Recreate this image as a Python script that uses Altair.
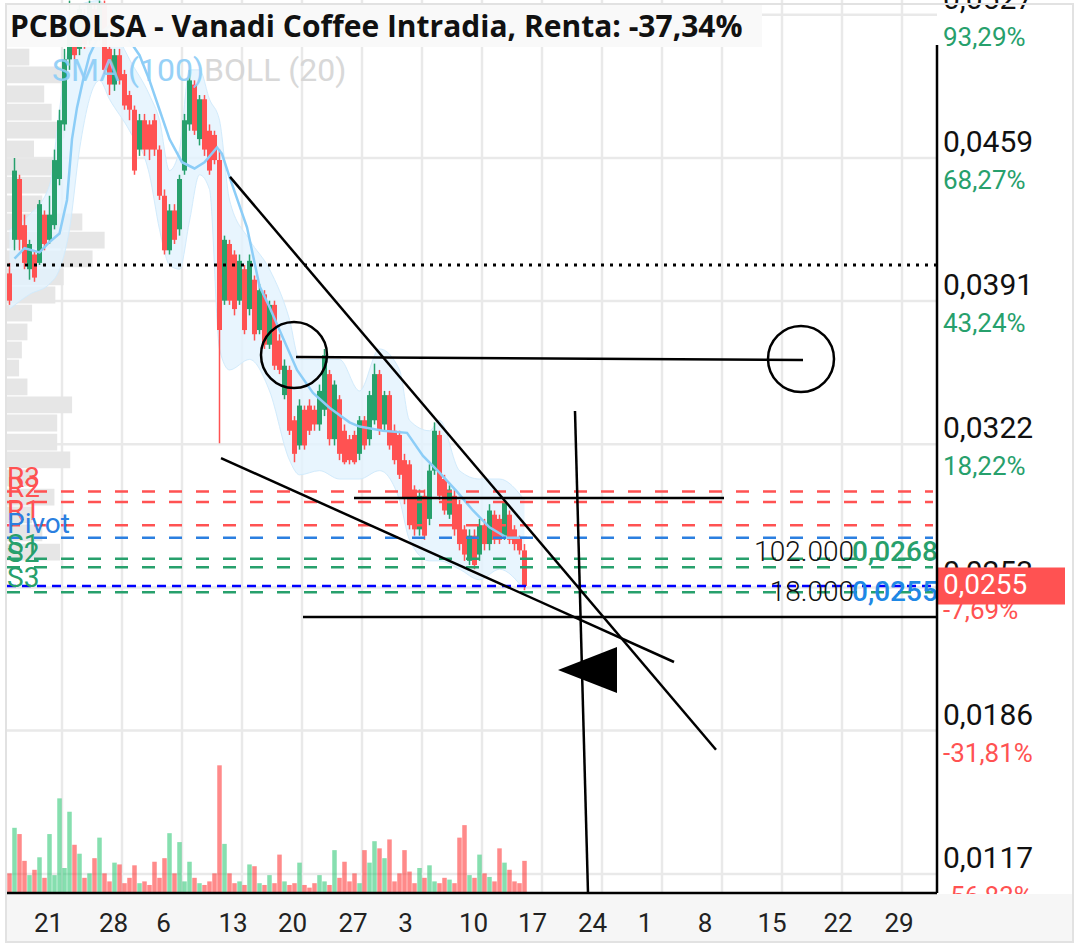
import altair as alt
import pandas as pd

# ---------------- data ----------------
opens = [0.0404, 0.0420, 0.0449, 0.0427, 0.0406, 0.0413, 0.0409, 0.0432, 0.0420, 0.0427,
         0.0449, 0.0475, 0.0506, 0.0520, 0.0511, 0.0527, 0.0515, 0.0530, 0.0518, 0.0532,
         0.0511, 0.0494, 0.0508, 0.0499, 0.0489, 0.0482, 0.0463, 0.0477, 0.0475, 0.0477,
         0.0463, 0.0441, 0.0415, 0.0434, 0.0425, 0.0453, 0.0475, 0.0494, 0.0468, 0.0487,
         0.0472, 0.0470, 0.0458, 0.0391, 0.0418, 0.0413, 0.0391, 0.0406, 0.0387, 0.0401,
         0.0377, 0.0394, 0.0370, 0.0389, 0.0372, 0.0346, 0.0358, 0.0334, 0.0322, 0.0339,
         0.0341, 0.0339, 0.0332, 0.0339, 0.0356, 0.0325, 0.0344, 0.0329, 0.0325, 0.0327,
         0.0318, 0.0334, 0.0325, 0.0334, 0.0356, 0.0332, 0.0346, 0.0329, 0.0327, 0.0315,
         0.0313, 0.0301, 0.0282, 0.0298, 0.0287, 0.0310, 0.0327, 0.0306, 0.0289, 0.0298,
         0.0294, 0.0282, 0.0267, 0.0279, 0.0270, 0.0284, 0.0275, 0.0289, 0.0287, 0.0279,
         0.0289, 0.0282, 0.0278, 0.0272]
closes = [0.0391, 0.0453, 0.0420, 0.0409, 0.0418, 0.0402, 0.0437, 0.0418, 0.0432, 0.0458,
          0.0477, 0.0506, 0.0525, 0.0508, 0.0530, 0.0513, 0.0532, 0.0518, 0.0532, 0.0501,
          0.0494, 0.0508, 0.0496, 0.0484, 0.0482, 0.0453, 0.0477, 0.0463, 0.0463, 0.0463,
          0.0441, 0.0415, 0.0434, 0.0420, 0.0449, 0.0477, 0.0496, 0.0472, 0.0487, 0.0463,
          0.0453, 0.0458, 0.0377, 0.0420, 0.0391, 0.0387, 0.0410, 0.0377, 0.0410, 0.0375,
          0.0396, 0.0370, 0.0389, 0.0360, 0.0358, 0.0360, 0.0329, 0.0318, 0.0341, 0.0322,
          0.0329, 0.0332, 0.0348, 0.0365, 0.0325, 0.0351, 0.0318, 0.0314, 0.0315, 0.0314,
          0.0334, 0.0322, 0.0346, 0.0356, 0.0329, 0.0346, 0.0322, 0.0315, 0.0308, 0.0297,
          0.0284, 0.0282, 0.0298, 0.0279, 0.0310, 0.0329, 0.0298, 0.0291, 0.0301, 0.0282,
          0.0275, 0.0270, 0.0279, 0.0265, 0.0284, 0.0275, 0.0291, 0.0277, 0.0277, 0.0295,
          0.0277, 0.0275, 0.0272, 0.0255]
highs = [0.0409, 0.0459, 0.0451, 0.0432, 0.0420, 0.0415, 0.0439, 0.0434, 0.0441, 0.0463,
         0.0482, 0.0511, 0.0534, 0.0525, 0.0532, 0.0530, 0.0534, 0.0532, 0.0534, 0.0534,
         0.0513, 0.0511, 0.0511, 0.0501, 0.0491, 0.0484, 0.0480, 0.0480, 0.0477, 0.0480,
         0.0465, 0.0444, 0.0437, 0.0437, 0.0451, 0.0480, 0.0501, 0.0496, 0.0489, 0.0489,
         0.0475, 0.0472, 0.0463, 0.0422, 0.0420, 0.0415, 0.0413, 0.0408, 0.0413, 0.0403,
         0.0399, 0.0396, 0.0391, 0.0391, 0.0375, 0.0363, 0.0360, 0.0336, 0.0344, 0.0341,
         0.0344, 0.0341, 0.0351, 0.0368, 0.0358, 0.0353, 0.0346, 0.0332, 0.0327, 0.0329,
         0.0336, 0.0336, 0.0348, 0.0361, 0.0358, 0.0348, 0.0348, 0.0332, 0.0329, 0.0318,
         0.0315, 0.0303, 0.0301, 0.0301, 0.0313, 0.0333, 0.0329, 0.0308, 0.0303, 0.0301,
         0.0296, 0.0284, 0.0282, 0.0282, 0.0287, 0.0287, 0.0294, 0.0291, 0.0289, 0.0296,
         0.0291, 0.0284, 0.0279, 0.0275]
lows = [0.0389, 0.0415, 0.0415, 0.0406, 0.0401, 0.0400, 0.0408, 0.0415, 0.0418, 0.0425,
        0.0446, 0.0472, 0.0501, 0.0506, 0.0508, 0.0511, 0.0513, 0.0515, 0.0515, 0.0499,
        0.0489, 0.0491, 0.0494, 0.0482, 0.0477, 0.0451, 0.0460, 0.0460, 0.0458, 0.0460,
        0.0439, 0.0413, 0.0413, 0.0418, 0.0422, 0.0451, 0.0472, 0.0470, 0.0465, 0.0460,
        0.0451, 0.0456, 0.0323, 0.0389, 0.0389, 0.0384, 0.0389, 0.0375, 0.0384, 0.0372,
        0.0375, 0.0368, 0.0368, 0.0358, 0.0356, 0.0344, 0.0327, 0.0314, 0.0320, 0.0320,
        0.0327, 0.0329, 0.0329, 0.0336, 0.0322, 0.0322, 0.0315, 0.0313, 0.0313, 0.0313,
        0.0315, 0.0320, 0.0322, 0.0332, 0.0327, 0.0329, 0.0320, 0.0313, 0.0306, 0.0294,
        0.0282, 0.0279, 0.0279, 0.0277, 0.0284, 0.0308, 0.0296, 0.0289, 0.0287, 0.0279,
        0.0272, 0.0267, 0.0265, 0.0263, 0.0267, 0.0272, 0.0272, 0.0275, 0.0275, 0.0277,
        0.0275, 0.0272, 0.0270, 0.0253]
volumes = [22, 73, 66, 36, 20, 26, 40, 17, 66, 20,
           106, 28, 91, 54, 44, 17, 22, 39, 62, 22,
           13, 34, 32, 11, 17, 31, 11, 13, 9, 35,
           17, 39, 67, 22, 57, 13, 35, 17, 11, 9,
           13, 22, 143, 55, 22, 11, 13, 9, 32, 30,
           11, 9, 20, 11, 43, 13, 9, 11, 34, 9,
           6, 11, 20, 13, 9, 48, 17, 35, 13, 22,
           11, 48, 34, 58, 50, 39, 60, 13, 22, 48,
           24, 11, 28, 17, 31, 13, 11, 17, 15, 11,
           62, 76, 20, 17, 43, 22, 18, 13, 50, 34,
           26, 13, 11, 36]

sma_idx = [1, 3, 6, 8, 10, 11.5, 12.5, 13.5, 14.7, 16, 18, 20, 22, 24, 26, 28, 30, 32, 34.5, 37,
           39, 41.5, 42.5, 44, 47.5, 50, 52, 54, 57.5, 60.7, 64, 68, 70, 74.7, 79.5, 82.7, 86,
           89.5, 92.7, 96, 99.5, 103.5]
sma_val = [0.0411, 0.0416, 0.0414, 0.0419, 0.0423, 0.0439, 0.0468, 0.0483, 0.0496, 0.0508,
           0.0518, 0.0522, 0.0520, 0.0515, 0.0508, 0.0496, 0.0482, 0.0468, 0.0457, 0.0454,
           0.0457, 0.0464, 0.0461, 0.0450, 0.0426, 0.0398, 0.0388, 0.0377, 0.0358, 0.0347,
           0.0340, 0.0333, 0.0331, 0.0329, 0.0328, 0.0317, 0.0309, 0.0300, 0.0291, 0.0283,
           0.0278, 0.0278]

boll_idx = [0, 4, 8, 10, 12, 14, 18, 20, 24, 28, 30, 32, 34, 36, 38, 40, 42, 44, 48, 52,
            56, 58, 62, 66, 70, 74, 78, 80, 84, 86, 90, 94, 98, 103]
boll_up = [0.0425, 0.0432, 0.0446, 0.0482, 0.0515, 0.0532, 0.0534, 0.0525, 0.0506, 0.0489,
           0.0477, 0.0453, 0.0463, 0.0501, 0.0501, 0.0487, 0.0477, 0.0439, 0.0420, 0.0406,
           0.0382, 0.0363, 0.0363, 0.0363, 0.0348, 0.0368, 0.0358, 0.0334, 0.0329, 0.0334,
           0.0310, 0.0306, 0.0306, 0.0296]
boll_lo = [0.0387, 0.0394, 0.0399, 0.0406, 0.0425, 0.0463, 0.0496, 0.0487, 0.0472, 0.0451,
           0.0425, 0.0408, 0.0406, 0.0429, 0.0451, 0.0444, 0.0368, 0.0358, 0.0363, 0.0348,
           0.0315, 0.0308, 0.0310, 0.0306, 0.0306, 0.0310, 0.0296, 0.0277, 0.0267, 0.0267,
           0.0263, 0.0258, 0.0263, 0.0253]

profile_price = [0.05071, 0.04986, 0.04895, 0.04809, 0.04723, 0.04633, 0.04547, 0.04461,
                 0.04371, 0.04285, 0.04199, 0.04109, 0.04023, 0.03937, 0.03851, 0.03761,
                 0.03675, 0.03589, 0.03499, 0.03413, 0.03327, 0.03236, 0.03151, 0.03065,
                 0.02974, 0.02889, 0.02803, 0.02712]
profile_vol = [24, 59, 40, 48, 62, 29, 54, 54, 38, 81, 105, 92, 61, 52, 27, 22, 16, 13, 22,
               70, 54, 54, 68, 32, 51, 27, 38, 57]

tick_prices = [0.05273, 0.04590, 0.03908, 0.03226, 0.02543, 0.01861, 0.01178]
tick_labels = ["0,0527", "0,0459", "0,0391", "0,0322", "0,0253", "0,0186", "0,0117"]
tick_pcts = ["93,29%", "68,27%", "43,24%", "18,22%", "-7,69%", "-31,81%", "-56,83%"]

date_pos = [7.8, 20.8, 30.8, 44.7, 56.6, 68.7, 79.2, 92.8, 104.6, 116.6, 127.1, 139.1,
            152.5, 165.7, 177.9]
date_labels = ["21", "28", "6", "13", "20", "27", "3", "10", "17", "24", "1", "8", "15",
               "22", "29"]
grid_x = [10.5, 22.5, 34.5, 46.5, 58.5, 70.5, 82.5, 94.5, 106.5, 118.5, 130.5, 142.5,
          154.5, 166.5, 178.5]

pivot_names = ["R3", "R2", "R1", "Pivot", "S1", "S2", "S3"]
pivot_prices = [0.0300, 0.0295, 0.0284, 0.0278, 0.0268, 0.0264, 0.0252]
last_price = 0.0255
last_label = "0,0255"
ref_level = 0.0408

# user drawings (bar index, price)
seg_x1 = [44.1, 42.3, 57.3, 68.9, 58.7, 113.1]
seg_y1 = [0.0450, 0.0316, 0.03642, 0.0297, 0.02402, 0.03384]
seg_x2 = [141.3, 132.9, 158.7, 142.9, 185.5, 115.7]
seg_y2 = [0.0177, 0.02188, 0.03627, 0.0297, 0.02402, 0.01087]
circle_x = [56.9, 158.3]
circle_y = [0.03651, 0.03632]
tri_x = [109.7, 121.5]
tri_top = [0.0215, 0.02259]
tri_bot = [0.0215, 0.02040]

order_prices = [0.0268, 0.0255]
order_qty = ["102.000", "18.000"]
order_lbl = ["0,0268", "0,0255"]

TITLE = "PCBOLSA - Vanadi Coffee Intradia, Renta: -37,34%"

# ---------------- styles ----------------
GREEN = "#27a06c"
RED = "#ff5252"
BLUE = "#2b7fe0"
W, H = 930, 893
XS = alt.Scale(domain=[-0.5, 185.5], nice=False, zero=False)
YS = alt.Scale(domain=[0.01087, 0.05343], nice=False, zero=False)


def X(f):
    return alt.X(f, scale=XS, axis=None)


def Y(f):
    return alt.Y(f, scale=YS, axis=None)


one = pd.DataFrame({"a": [0]})
cdf = pd.DataFrame({"i": list(range(len(opens))), "o": opens, "c": closes,
                    "h": highs, "l": lows, "v": volumes})
up = alt.condition("datum.c >= datum.o", alt.value(GREEN), alt.value(RED))
vol_up = alt.condition("datum.c >= datum.o", alt.value("#22c46e"), alt.value("#ff2a2a"))

grid_v = alt.Chart(pd.DataFrame({"g": grid_x})).mark_rule(color="#e9e9e9", strokeWidth=2.5).encode(
    x=X("g:Q"), y=alt.value(0), y2=alt.value(H))
grid_h = alt.Chart(pd.DataFrame({"p": tick_prices})).mark_rule(color="#e9e9e9", strokeWidth=2.5).encode(
    y=Y("p:Q"), x=alt.value(0), x2=alt.value(W))

pdf = pd.DataFrame({"p": profile_price, "pv": profile_vol})
profile = alt.Chart(pdf).transform_calculate(
    lo="datum.p - 0.0004", hi="datum.p + 0.0004").mark_rect(color="#e6e6e6").encode(
    x=alt.X("pv:Q", scale=alt.Scale(domain=[0, 1000], nice=False, zero=False), axis=None),
    x2=alt.value(0), y=Y("lo:Q"), y2="hi:Q")

bdf = pd.DataFrame({"i": boll_idx, "u": boll_up, "l": boll_lo})
boll_area = alt.Chart(bdf).mark_area(color="#e2f2fe", opacity=0.8, interpolate="monotone").encode(
    x=X("i:Q"), y=Y("u:Q"), y2="l:Q")
boll_u = alt.Chart(bdf).mark_line(color="#d2ebfc", strokeWidth=1, interpolate="monotone").encode(
    x=X("i:Q"), y=Y("u:Q"))
boll_l = alt.Chart(bdf).mark_line(color="#d2ebfc", strokeWidth=1, interpolate="monotone").encode(
    x=X("i:Q"), y=Y("l:Q"))

vol = alt.Chart(cdf).transform_calculate(x0="datum.i - 0.45", x1="datum.i + 0.45").mark_rect(
    opacity=0.55).encode(
    x=X("x0:Q"), x2="x1:Q",
    y=alt.Y("v:Q", scale=alt.Scale(domain=[0, 1000], nice=False, zero=True), axis=None),
    y2=alt.value(H), color=vol_up)

wicks = alt.Chart(cdf).mark_rule(strokeWidth=1.5).encode(
    x=X("i:Q"), y=Y("l:Q"), y2="h:Q", color=up)
bodies = alt.Chart(cdf).transform_calculate(x0="datum.i - 0.5", x1="datum.i + 0.5").mark_rect().encode(
    x=X("x0:Q"), x2="x1:Q", y=Y("o:Q"), y2="c:Q", color=up)

sma = alt.Chart(pd.DataFrame({"i": sma_idx, "s": sma_val})).mark_line(
    color="#8ccdf7", strokeWidth=2.5).encode(x=X("i:Q"), y=Y("s:Q"))

dotted = alt.Chart(pd.DataFrame({"p": [ref_level]})).mark_rule(
    color="black", strokeWidth=3, strokeDash=[3, 6]).encode(
    y=Y("p:Q"), x=alt.value(0), x2=alt.value(W))

pvdf = pd.DataFrame({"name": pivot_names, "p": pivot_prices})
pcol = alt.Color("name:N", scale=alt.Scale(domain=pivot_names,
                 range=[RED, RED, RED, BLUE, GREEN, GREEN, GREEN]), legend=None)
pivots = alt.Chart(pvdf).mark_rule(strokeWidth=2.5, strokeDash=[13, 14]).encode(
    y=Y("p:Q"), x=alt.value(0), x2=alt.value(926), color=pcol)
pivot_txt = alt.Chart(pvdf).mark_text(align="left", baseline="alphabetic", dy=-5,
                                      fontSize=28, font="Roboto").encode(
    y=Y("p:Q"), x=alt.value(0), text="name:N", color=pcol)

last_line = alt.Chart(pd.DataFrame({"p": [last_price]})).mark_rule(
    color="#0000ff", strokeWidth=2.5, strokeDash=[9, 6]).encode(
    y=Y("p:Q"), x=alt.value(0), x2=alt.value(W))

segs = alt.Chart(pd.DataFrame({"x1": seg_x1, "y1": seg_y1, "x2": seg_x2, "y2": seg_y2})).mark_rule(
    color="black", strokeWidth=2.5).encode(x=X("x1:Q"), x2="x2:Q", y=Y("y1:Q"), y2="y2:Q")
circles = alt.Chart(pd.DataFrame({"x": circle_x, "y": circle_y})).mark_point(
    shape="circle", size=4356, filled=False, color="black", strokeWidth=2.5, opacity=1).encode(
    x=X("x:Q"), y=Y("y:Q"))
tri = alt.Chart(pd.DataFrame({"x": tri_x, "t": tri_top, "b": tri_bot})).mark_area(
    color="black", orient="vertical").encode(x=X("x:Q"), y=Y("t:Q"), y2="b:Q")

odf = pd.DataFrame({"p": order_prices, "q": order_qty, "lbl": order_lbl,
                    "k": ["buy", "last"]})
order_q = alt.Chart(odf).transform_calculate(
    yy="datum.k == 'buy' ? datum.p + 0.00029 : datum.p - 0.00031").mark_text(
    align="right", baseline="middle", fontSize=28, font="Roboto", fontWeight=300,
    color="#111").encode(x=alt.value(847), y=Y("yy:Q"), text="q:N")
order_l = alt.Chart(odf).transform_calculate(
    yy="datum.k == 'buy' ? datum.p + 0.00029 : datum.p - 0.00031").mark_text(
    align="left", baseline="middle", fontSize=28, font="Roboto", fontWeight=500).encode(
    x=alt.value(845), y=Y("yy:Q"), text="lbl:N",
    color=alt.condition("datum.k == 'buy'", alt.value(GREEN), alt.value("#1e88e5")))

title_box = alt.Chart(one).mark_rect(color="#f9f9f9", opacity=0.97).encode(
    x=alt.value(0), x2=alt.value(755), y=alt.value(5), y2=alt.value(47))
title = alt.Chart(one).mark_text(text=TITLE, align="left", baseline="alphabetic",
                                 font="Open Sans", fontWeight="bold", fontSize=30,
                                 color="#111").encode(x=alt.value(3), y=alt.value(37))
leg1 = alt.Chart(one).mark_text(text="SMA (100)", align="left", baseline="alphabetic",
                                font="Roboto", fontSize=32, color="#8ccdf7", opacity=0.9).encode(
    x=alt.value(45), y=alt.value(81))
leg2 = alt.Chart(one).mark_text(text="BOLL (20)", align="left", baseline="alphabetic",
                                font="Roboto", fontSize=32, color="#d4d4d4", opacity=0.9).encode(
    x=alt.value(197), y=alt.value(81))

tdf = pd.DataFrame({"p": tick_prices, "lbl": tick_labels, "pct": tick_pcts})
price_lbl = alt.Chart(tdf).mark_text(align="left", baseline="alphabetic", dy=-6,
                                     fontSize=30, font="Roboto", color="#111").encode(
    x=alt.value(936), y=Y("p:Q"), text="lbl:N")
pct_lbl = alt.Chart(tdf).mark_text(align="left", baseline="alphabetic", dy=31,
                                   fontSize=26, font="Roboto").encode(
    x=alt.value(936), y=Y("p:Q"), text="pct:N",
    color=alt.condition("indexof(datum.pct, '-') == 0", alt.value(RED), alt.value(GREEN)))

ldf = pd.DataFrame({"p": [last_price], "lbl": [last_label]})
red_box = alt.Chart(ldf).transform_calculate(
    lo="datum.p - 0.00088", hi="datum.p + 0.00088").mark_rect(color=RED).encode(
    x=alt.value(930), x2=alt.value(1058), y=Y("lo:Q"), y2="hi:Q")
red_txt = alt.Chart(ldf).mark_text(align="left", baseline="middle", fontSize=28,
                                   font="Roboto", color="white").encode(
    x=alt.value(936), y=Y("p:Q"), text="lbl:N")

band = alt.Chart(one).mark_rect(color="#f6f6f6").encode(
    x=alt.value(-2), x2=alt.value(1065), y=alt.value(894), y2=alt.value(941))
frame = alt.Chart(one).mark_rect(fillOpacity=0, stroke="#e2e2e2", strokeWidth=2).encode(
    x=alt.value(-1), x2=alt.value(1066), y=alt.value(4), y2=alt.value(942))
dates = alt.Chart(pd.DataFrame({"pos": date_pos, "lbl": date_labels})).mark_text(
    align="center", baseline="alphabetic", fontSize=26, font="Roboto", color="#222").encode(
    x=X("pos:Q"), y=alt.value(932), text="lbl:N")
bottom_line = alt.Chart(one).mark_rule(color="black", strokeWidth=2.5).encode(
    x=alt.value(0), x2=alt.value(W), y=alt.value(H))
right_line = alt.Chart(one).mark_rule(color="black", strokeWidth=2.5).encode(
    x=alt.value(W), y=alt.value(45), y2=alt.value(H))

chart = alt.layer(
    grid_v, grid_h, profile, boll_area, boll_u, boll_l, vol, wicks, bodies, sma, dotted,
    pivots, last_line, pivot_txt, segs, circles, tri, order_q, order_l,
    title_box, title, leg1, leg2, price_lbl, pct_lbl, red_box, red_txt,
    band, frame, dates, bottom_line, right_line
).resolve_scale(x="independent", y="independent").properties(
    width=W, height=H,
    autosize=alt.AutoSizeParams(type="none"),
    padding={"left": 7, "top": 0, "right": 140, "bottom": 55},
    background="white",
).configure_view(stroke=None)

chart.save("out.html", embed_options={"renderer": "svg", "actions": False})
